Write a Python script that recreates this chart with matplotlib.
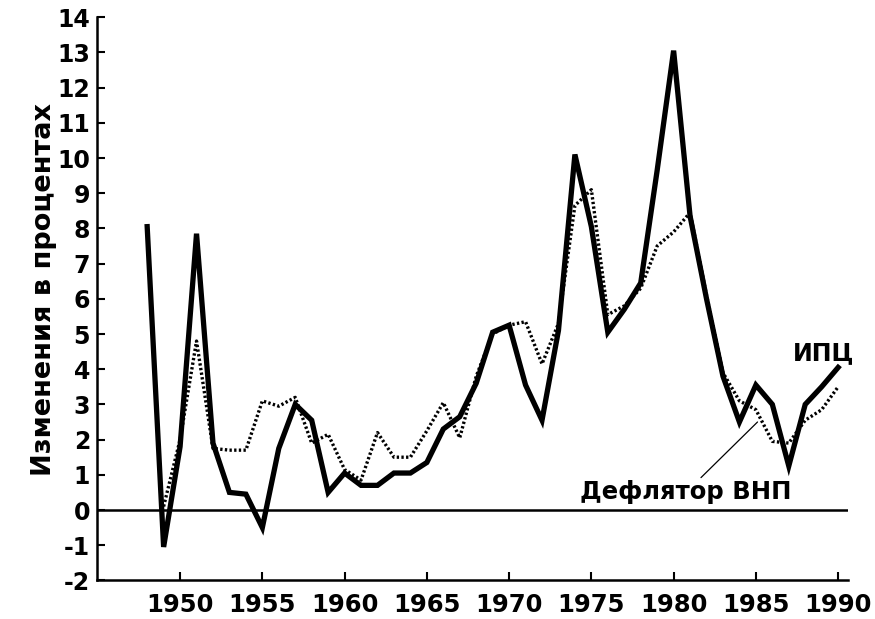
import matplotlib
matplotlib.use("Agg")
import matplotlib.pyplot as plt

# --- data ---
cpi_years = list(range(1948, 1991))
cpi_values = [8.05, -1.05, 1.8, 7.85, 1.9, 0.5, 0.45, -0.5, 1.75, 3.0,
              2.55, 0.5, 1.05, 0.7, 0.7, 1.05, 1.05, 1.35, 2.3, 2.65,
              3.6, 5.05, 5.25, 3.55, 2.55, 5.1, 10.1, 8.05, 5.05, 5.7,
              6.45, 9.65, 13.05, 8.35, 6.0, 3.8, 2.5, 3.55, 3.0, 1.25,
              3.0, 3.5, 4.05]

defl_years = list(range(1949, 1991))
defl_values = [0.1, 2.0, 4.8, 1.75, 1.7, 1.7, 3.1, 2.95, 3.2, 1.9,
               2.15, 1.15, 0.85, 2.2, 1.5, 1.5, 2.25, 3.05, 2.05, 3.8,
               5.0, 5.25, 5.35, 4.15, 5.3, 8.65, 9.1, 5.55, 5.8, 6.3,
               7.5, 7.9, 8.45, 6.1, 3.9, 3.1, 2.85, 1.95, 1.9, 2.55,
               2.85, 3.5]

x_ticks = [1950, 1955, 1960, 1965, 1970, 1975, 1980, 1985, 1990]
y_ticks = list(range(-2, 15))

y_label = "Изменения в процентах"
cpi_label = "ИПЦ"
defl_label = "Дефлятор ВНП"

FONT = "DejaVu Sans"

fig = plt.figure(figsize=(8.75, 6.19), dpi=100)
W, H = 875, 619
left_px, right_px, top_px, bot_px = 97, 848, 17.2, 580.4
ax = fig.add_axes([left_px / W, 1 - bot_px / H,
                   (right_px - left_px) / W, (bot_px - top_px) / H])

ax.plot(defl_years, defl_values, color="black", lw=2.4,
        linestyle=(0, (0.7, 0.7)), zorder=2)
ax.plot(cpi_years, cpi_values, color="black", lw=3.8,
        solid_joinstyle="miter", zorder=3)

ax.axhline(0, color="black", lw=1.8, zorder=1)

ax.set_xlim(1944.95, 1990.6)
ax.set_ylim(-2, 14)
ax.set_xticks(x_ticks)
ax.set_yticks(y_ticks)
ax.set_xticklabels([str(t) for t in x_ticks], fontfamily=FONT,
                   fontweight="bold", fontsize=17.5)
ax.set_yticklabels([str(t) for t in y_ticks], fontfamily=FONT,
                   fontweight="bold", fontsize=17)
ax.tick_params(axis="both", direction="in", length=6, width=1.5)
ax.tick_params(axis="x", pad=9)
ax.tick_params(axis="y", pad=5)

for s in ["top", "right"]:
    ax.spines[s].set_visible(False)
for s in ["left", "bottom"]:
    ax.spines[s].set_linewidth(1.8)

fig.text(44 / W, 1 - 289 / H, y_label, rotation=90, ha="center",
         va="center", fontfamily=FONT, fontweight="bold", fontsize=19.5)

ax.text(1989.1, 4.46, cpi_label, ha="center", va="center",
        fontfamily=FONT, fontweight="bold", fontsize=17)
ax.annotate(defl_label, xy=(1985.1, 2.5), xytext=(1980.75, 0.5),
            ha="center", va="center", fontfamily=FONT, fontweight="bold",
            fontsize=17.5,
            arrowprops=dict(arrowstyle="-", color="black", lw=0.9,
                            shrinkA=0, shrinkB=0))

fig.savefig("out.png", dpi=100, facecolor="white")
